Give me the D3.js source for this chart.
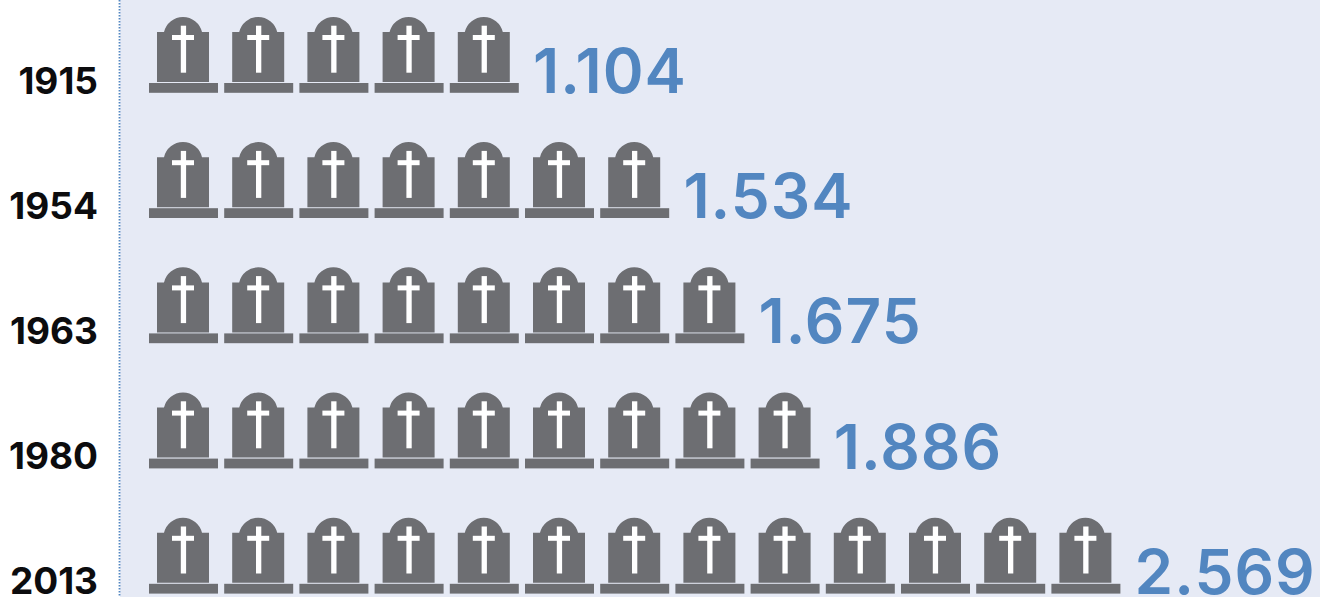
<!DOCTYPE html>
<html><head><meta charset="utf-8">
<script src="https://cdn.jsdelivr.net/npm/d3@7"></script>
<style>html,body{margin:0;padding:0;background:#fff;overflow:hidden}svg{display:block}</style>
</head><body><svg id="c" width="1320" height="597"></svg>
<script>
const years = ["1915","1954","1963","1980","2013"];
const valueLabels = ["1.104","1.534","1.675","1.886","2.569"];
const iconCounts = [5,7,8,9,13];

const W=1320,H=597;
const svg=d3.select("#c");
const grey="#6d6e72", blue="#5286c0", bg="#e6eaf5";
svg.append("rect").attr("x",120).attr("y",0).attr("width",W-120).attr("height",H).attr("fill",bg);
svg.append("line").attr("x1",119.5).attr("x2",119.5).attr("y1",0).attr("y2",H)
  .attr("stroke",blue).attr("stroke-width",1.8).attr("stroke-dasharray","1.6 1.4");

const y=d3.scaleBand().domain(years).range([0,626]).paddingInner(0).paddingOuter(0);
const x=d3.scaleLinear().domain([0,13]).range([149,149+75.2*13]);

const rows=svg.selectAll("g.row").data(years.map((yr,i)=>({yr,i,label:valueLabels[i],n:iconCounts[i]})))
  .join("g").attr("class","row").attr("transform",d=>`translate(0,${y(d.yr)})`);

rows.append("text").attr("x",98).attr("y",93.5).attr("text-anchor","end")
  .attr("font-family","Inter").attr("font-weight",700).attr("font-size",37)
  .attr("fill","#0c0c0e").text(d=>d.yr);

const icons=rows.selectAll("g.icon").data(d=>d3.range(d.n)).join("g").attr("class","icon")
  .attr("transform",k=>`translate(${x(k)},0)`);
icons.append("rect").attr("x",0).attr("y",83).attr("width",69).attr("height",9.8).attr("fill",grey);
icons.append("path").attr("fill",grey)
  .attr("d","M8,32 H15 A19.5,19.5 0 0 1 53,32 H60 V82 H8 Z");
icons.append("rect").attr("x",31.8).attr("y",25.7).attr("width",5.3).attr("height",47).attr("fill","#fff");
icons.append("rect").attr("x",23).attr("y",35).attr("width",22).attr("height",5).attr("fill","#fff");

rows.append("text").attr("y",93).attr("x",d=>x(d.n)+8)
  .attr("font-family","Inter").attr("font-weight",600).attr("font-size",62)
  .attr("letter-spacing",1)
  .attr("fill",blue).text(d=>d.label);
</script></body></html>
